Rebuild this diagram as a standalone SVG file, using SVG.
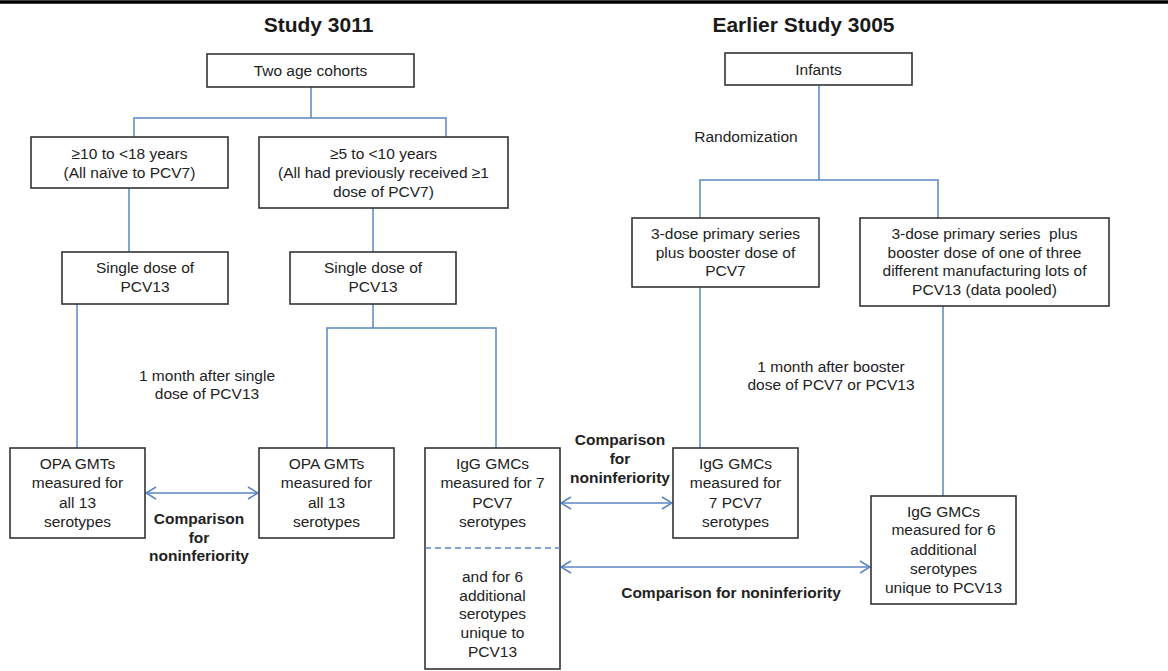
<svg xmlns="http://www.w3.org/2000/svg" width="1168" height="671" viewBox="0 0 1168 671">
<style>
.box{fill:#fff;stroke:#333;stroke-width:1.6}
.t{font-family:"Liberation Sans",Arial,sans-serif;font-size:15.5px;fill:#222;text-anchor:middle}
.b{font-weight:bold}
.title{font-family:"Liberation Sans",Arial,sans-serif;font-size:21px;font-weight:bold;fill:#1a1a1a;text-anchor:middle}
.c{fill:none;stroke:#5b86c4;stroke-width:1.5}
</style>
<defs>
<marker id="ah" viewBox="0 0 12 14" markerUnits="userSpaceOnUse" markerWidth="12" markerHeight="14" refX="11" refY="7" orient="auto-start-reverse">
<path d="M1,1 L11,7 L1,13" fill="none" stroke="#5b86c4" stroke-width="1.5"/>
</marker>
</defs>
<rect width="1168" height="671" fill="#fff"/>
<line x1="0" y1="2" x2="1168" y2="2" stroke="#000" stroke-width="3.5"/>
<text class="title" x="318.5" y="32">Study 3011</text>
<text class="title" x="803.5" y="32">Earlier Study 3005</text>

<g id="connectors">
<path class="c" d="M311,87 V118 M134,137 V118 H446 V137"/>
<path class="c" d="M129,188 V252"/>
<path class="c" d="M373,208 V252"/>
<path class="c" d="M77,304 V448"/>
<path class="c" d="M373,304 V328 M327,448 V328 H496 V448"/>
<path class="c" d="M819,85 V180 M700,218 V180 H938 V218"/>
<path class="c" d="M700,287 V448"/>
<path class="c" d="M943,306 V496"/>
<line class="c" x1="146" y1="493" x2="258" y2="493" marker-start="url(#ah)" marker-end="url(#ah)"/>
<line class="c" x1="561" y1="503" x2="672" y2="503" marker-start="url(#ah)" marker-end="url(#ah)"/>
<line class="c" x1="561" y1="567" x2="870" y2="567" marker-start="url(#ah)" marker-end="url(#ah)"/>
<text class="t" x="207" y="381">1 month after single</text>
<text class="t" x="207" y="399">dose of PCV13</text>
<text class="t b" x="199" y="524">Comparison</text>
<text class="t b" x="199" y="543">for</text>
<text class="t b" x="199" y="561">noninferiority</text>
<text class="t" x="746" y="142">Randomization</text>
<text class="t" x="831" y="372">1 month after booster</text>
<text class="t" x="831" y="390">dose of PCV7 or PCV13</text>
<text class="t b" x="620" y="445">Comparison</text>
<text class="t b" x="620" y="464">for</text>
<text class="t b" x="620" y="483">noninferiority</text>
<text class="t b" x="731" y="598">Comparison for noninferiority</text>
</g>

<g id="n-cohorts">
<rect class="box" x="207" y="54" width="207" height="33"/>
<text class="t" x="310.5" y="76">Two age cohorts</text>
</g>
<g id="n-older">
<rect class="box" x="31" y="137" width="197" height="51"/>
<text class="t" x="129.5" y="159">≥10 to &lt;18 years</text>
<text class="t" x="129.5" y="178">(All naïve to PCV7)</text>
</g>
<g id="n-younger">
<rect class="box" x="259" y="137" width="249" height="71"/>
<text class="t" x="383.5" y="159">≥5 to &lt;10 years</text>
<text class="t" x="383.5" y="178">(All had previously received ≥1</text>
<text class="t" x="383.5" y="197">dose of PCV7)</text>
</g>
<g id="n-dose-left">
<rect class="box" x="62" y="252" width="166" height="52"/>
<text class="t" x="145" y="273">Single dose of</text>
<text class="t" x="145" y="292">PCV13</text>
</g>
<g id="n-dose-right">
<rect class="box" x="290" y="252" width="166" height="52"/>
<text class="t" x="373" y="273">Single dose of</text>
<text class="t" x="373" y="292">PCV13</text>
</g>
<g id="n-opa-left">
<rect class="box" x="10" y="448" width="135" height="90"/>
<text class="t" x="77.5" y="469">OPA GMTs</text>
<text class="t" x="77.5" y="488">measured for</text>
<text class="t" x="77.5" y="508">all 13</text>
<text class="t" x="77.5" y="527">serotypes</text>
</g>
<g id="n-opa-mid">
<rect class="box" x="259" y="448" width="135" height="90"/>
<text class="t" x="326.5" y="469">OPA GMTs</text>
<text class="t" x="326.5" y="488">measured for</text>
<text class="t" x="326.5" y="508">all 13</text>
<text class="t" x="326.5" y="527">serotypes</text>
</g>
<g id="n-igg-3011">
<rect class="box" x="425" y="448" width="135" height="221"/>
<line x1="425" y1="548" x2="560" y2="548" stroke="#5b86c4" stroke-width="1.5" stroke-dasharray="6,4"/>
<text class="t" x="492.5" y="469">IgG GMCs</text>
<text class="t" x="492.5" y="488">measured for 7</text>
<text class="t" x="492.5" y="508">PCV7</text>
<text class="t" x="492.5" y="527">serotypes</text>
<text class="t" x="492.5" y="582">and for 6</text>
<text class="t" x="492.5" y="601">additional</text>
<text class="t" x="492.5" y="619">serotypes</text>
<text class="t" x="492.5" y="638">unique to</text>
<text class="t" x="492.5" y="657">PCV13</text>
</g>
<g id="n-infants">
<rect class="box" x="725" y="53" width="187" height="32"/>
<text class="t" x="818.5" y="75">Infants</text>
</g>
<g id="n-pcv7-arm">
<rect class="box" x="632" y="218" width="187" height="69"/>
<text class="t" x="725.5" y="239">3-dose primary series</text>
<text class="t" x="725.5" y="258">plus booster dose of</text>
<text class="t" x="725.5" y="276">PCV7</text>
</g>
<g id="n-pcv13-arm">
<rect class="box" x="860" y="218" width="249" height="88"/>
<text class="t" x="984.5" y="239">3-dose primary series&#160; plus</text>
<text class="t" x="984.5" y="258">booster dose of one of three</text>
<text class="t" x="984.5" y="276">different manufacturing lots of</text>
<text class="t" x="984.5" y="295">PCV13 (data pooled)</text>
</g>
<g id="n-igg-pcv7">
<rect class="box" x="673" y="448" width="125" height="90"/>
<text class="t" x="735.5" y="469">IgG GMCs</text>
<text class="t" x="735.5" y="488">measured for</text>
<text class="t" x="735.5" y="508">7 PCV7</text>
<text class="t" x="735.5" y="527">serotypes</text>
</g>
<g id="n-igg-pcv13">
<rect class="box" x="871" y="496" width="145" height="108"/>
<text class="t" x="943.5" y="517">IgG GMCs</text>
<text class="t" x="943.5" y="535">measured for 6</text>
<text class="t" x="943.5" y="555">additional</text>
<text class="t" x="943.5" y="574">serotypes</text>
<text class="t" x="943.5" y="593">unique to PCV13</text>
</g>
</svg>
